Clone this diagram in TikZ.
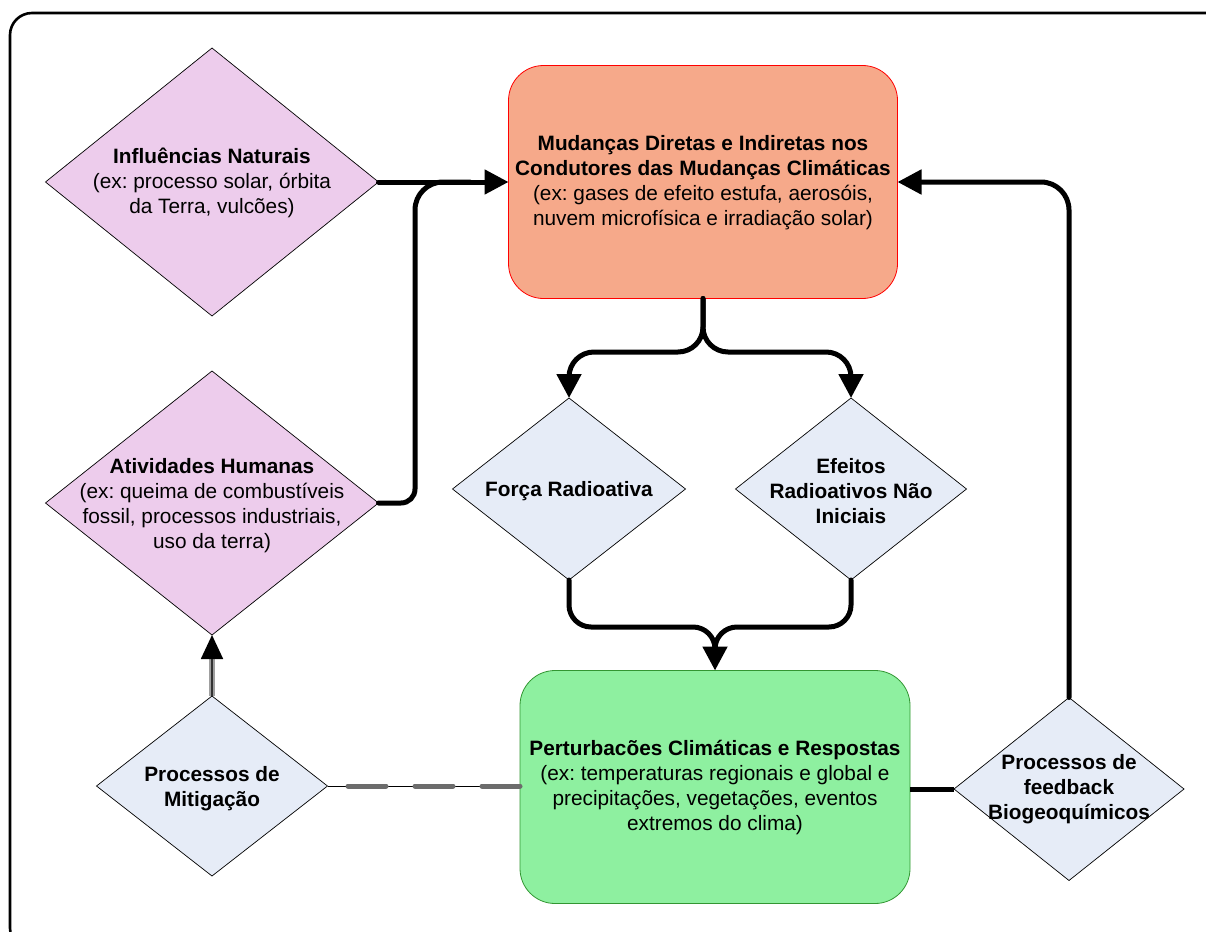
\documentclass[tikz,border=0pt]{standalone}
\usepackage{fontspec}
\setmainfont{Liberation Sans}
\usetikzlibrary{shapes.geometric,arrows.meta}
\definecolor{pinkfill}{RGB}{237,204,236}
\definecolor{bluefill}{RGB}{230,236,247}
\definecolor{orangefill}{RGB}{246,169,138}
\definecolor{greenfill}{RGB}{142,240,160}
\definecolor{greenedge}{RGB}{50,150,50}
\frenchspacing
\tikzset{
  dia/.style={diamond, draw=black, line width=0.7pt, inner sep=0pt, outer sep=0pt},
  bigbox/.style={rectangle, rounded corners=35pt, inner sep=0pt, outer sep=0pt, line width=0.8pt},
  txt/.style={align=center, font=\fontsize{20.8}{25}\selectfont},
  btxt/.style={align=center, font=\fontsize{20.8}{25}\selectfont\bfseries},
  flow/.style={line width=5pt, rounded corners=25pt, line cap=round},
  tip/.style={-{Triangle[length=24pt,width=24pt]}},
}
\begin{document}
\begin{tikzpicture}[x=1pt,y=-1pt]
\useasboundingbox (0,0) rectangle (1206,931);
% outer frame
\draw[line width=2.6pt, rounded corners=22pt] (10,13) rectangle (1228,950);

% shapes
\node[dia, fill=pinkfill, minimum width=333pt, minimum height=268pt] (nat) at (212,182) {};
\node[dia, fill=pinkfill, minimum width=333pt, minimum height=264pt] (hum) at (212,503) {};
\node[dia, fill=bluefill, minimum width=233pt, minimum height=182pt] (forca) at (569,489) {};
\node[dia, fill=bluefill, minimum width=231pt, minimum height=182pt] (efe) at (851,489) {};
\node[dia, fill=bluefill, minimum width=231pt, minimum height=180pt] (mit) at (212,786) {};
\node[dia, fill=bluefill, minimum width=230pt, minimum height=183pt] (bio) at (1069,789) {};
\node[bigbox, fill=orangefill, draw=red, minimum width=389pt, minimum height=233pt] (dri) at (703,182) {};
\node[bigbox, fill=greenfill, draw=greenedge, minimum width=390pt, minimum height=233pt] (per) at (715,787) {};

% labels
\node[txt] (natT) at (212,183) {\textbf{Influências Naturais}\\(ex: processo solar, órbita\\da Terra, vulcões)};
\node[txt] (humT) at (212,506) {\textbf{Atividades Humanas}\\(ex: queima de combustíveis\\fossil, processos industriais,\\uso da terra)};
\node[btxt] (forcaT) at (569,491) {Força Radioativa};
\node[btxt] (efeT) at (851,491) {Efeitos\\Radioativos Não\\Iniciais};
\node[btxt] (mitT) at (212,789) {Processos de\\Mitigação};
\node[btxt] (bioT) at (1069,789) {Processos de\\feedback\\Biogeoquímicos};
\node[txt] (driT) at (703,183) {\textbf{Mudanças Diretas e Indiretas nos}\\\textbf{Condutores das Mudanças Climáticas}\\(ex: gases de efeito estufa, aerosóis,\\nuvem microfísica e irradiação solar)};
\node[txt] (perT) at (715,788) {\textbf{Perturbacões Climáticas e Respostas}\\(ex: temperaturas regionais e global e\\precipitações, vegetações, eventos\\extremos do clima)};

% connectors
\draw[flow, tip] (nat.east) -- (dri.west);
\draw[flow, rounded corners=14pt] (hum.east) -- (415,503) [rounded corners=28pt] -- (415,182) -- (470,182);
\draw[flow, tip] (dri.south) -- (703,352) -- (569,352) -- (forca.north);
\draw[flow, tip] (dri.south) -- (703,352) -- (851,352) -- (efe.north);
\draw[flow, rounded corners=22pt] (forca.south) -- (569,627) -- (715,627) -- (715,652);
\draw[flow, rounded corners=22pt] (efe.south) -- (851,627) -- (715,627) -- (715,652);
\draw[flow, tip, rounded corners=0pt] (715,640) -- (per.north);
\draw[flow, tip, rounded corners=28pt] (bio.north) -- (1069,182) -- (dri.east);
\draw[line width=5pt] (per.east |- bio.west) -- (bio.west);
% mitigation links
\draw[black, line width=0.8pt] (mit.east) -- (per.west |- mit.east);
\draw[gray!85!black, line width=5pt, line cap=round, dash pattern=on 38pt off 29pt]
  (per.west |- mit.east) -- ([xshift=19pt]mit.east);
\draw[gray!75, line width=5.5pt] (mit.north) -- ([yshift=-20pt]hum.south);
\draw[black!80, line width=1.8pt, -{Triangle[length=24pt,width=22pt,color=black]}] (mit.north) -- (hum.south);
\end{tikzpicture}
\end{document}
